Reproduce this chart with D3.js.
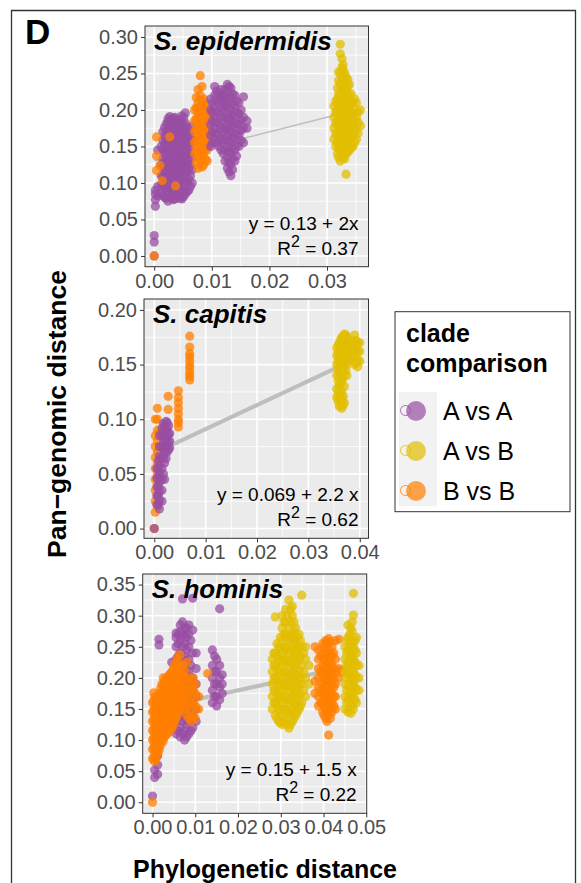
<!DOCTYPE html>
<html>
<head>
<meta charset="utf-8">
<script src="https://cdn.jsdelivr.net/npm/d3@7/dist/d3.min.js"></script>
<style>
  body { margin: 0; background: #fff; }
  svg text { font-family: "Liberation Sans", Arial, Helvetica, sans-serif; }
</style>
</head>
<body>
<svg id="fig" width="581" height="883"></svg>
<script>
// points are stored column-wise: [x, [y, y, ...]]

// ---- S. epidermidis ----
const epiAA1 = [
  [0.0000, [0.000, 0.019, 0.028]],
  [0.0002, [0.068, 0.077, 0.085, 0.090]],
  [0.0006, [0.082, 0.095, 0.145]],
  [0.0012, [0.086, 0.098, 0.110, 0.125, 0.150]],
  [0.0015, [0.083, 0.097, 0.109, 0.121, 0.133, 0.145, 0.158, 0.170]],
  [0.0018, [0.080, 0.092, 0.104, 0.116, 0.128, 0.140, 0.152, 0.164, 0.176]],
  [0.0021, [0.079, 0.094, 0.107, 0.119, 0.131, 0.143, 0.156, 0.169, 0.181]],
  [0.0024, [0.075, 0.088, 0.100, 0.112, 0.124, 0.136, 0.148, 0.160, 0.172, 0.184, 0.188]],
  [0.0027, [0.083, 0.095, 0.108, 0.120, 0.132, 0.145, 0.157, 0.169, 0.180, 0.191]],
  [0.0030, [0.080, 0.090, 0.102, 0.114, 0.126, 0.138, 0.150, 0.162, 0.174, 0.186]],
  [0.0033, [0.077, 0.087, 0.097, 0.109, 0.121, 0.133, 0.145, 0.157, 0.169, 0.181, 0.189]],
  [0.0036, [0.078, 0.094, 0.106, 0.118, 0.130, 0.142, 0.154, 0.166, 0.178, 0.190]],
  [0.0039, [0.084, 0.100, 0.112, 0.124, 0.136, 0.148, 0.160, 0.172, 0.184]],
  [0.0042, [0.082, 0.096, 0.108, 0.120, 0.132, 0.144, 0.156, 0.168, 0.180, 0.186]],
  [0.0045, [0.079, 0.090, 0.102, 0.114, 0.126, 0.138, 0.150, 0.162, 0.174, 0.183]],
  [0.0048, [0.078, 0.090, 0.104, 0.116, 0.128, 0.140, 0.152, 0.164, 0.176, 0.192]],
  [0.0051, [0.081, 0.096, 0.109, 0.121, 0.133, 0.145, 0.157, 0.169, 0.180, 0.190]],
  [0.0054, [0.085, 0.100, 0.112, 0.124, 0.136, 0.148, 0.160, 0.172, 0.182, 0.196]],
  [0.0057, [0.088, 0.102, 0.115, 0.127, 0.139, 0.151, 0.164, 0.176]],
  [0.0060, [0.090, 0.105, 0.118, 0.130, 0.142, 0.155, 0.170]],
  [0.0063, [0.095, 0.110, 0.125, 0.140, 0.150, 0.165]],
  [0.0066, [0.100, 0.118, 0.135, 0.160, 0.178]]
]
const epiBB = [
  [0.0000, [0.000]],
  [0.0004, [0.163, 0.137, 0.117]],
  [0.0010, [0.124]],
  [0.0014, [0.103]],
  [0.0027, [0.163]],
  [0.0037, [0.096]],
  [0.0070, [0.140, 0.155, 0.170, 0.185, 0.200]],
  [0.0073, [0.128, 0.143, 0.158, 0.173, 0.188, 0.203, 0.217]],
  [0.0076, [0.120, 0.135, 0.150, 0.165, 0.180, 0.195, 0.210, 0.228]],
  [0.0080, [0.130, 0.145, 0.160, 0.175, 0.190, 0.205, 0.220, 0.247]],
  [0.0083, [0.122, 0.137, 0.152, 0.167, 0.182, 0.197, 0.212, 0.232]],
  [0.0086, [0.125, 0.140, 0.155, 0.170, 0.185, 0.200, 0.215]],
  [0.0089, [0.132, 0.147, 0.162, 0.177, 0.192, 0.207]],
  [0.0092, [0.130, 0.145, 0.160, 0.175, 0.190, 0.205]],
  [0.0095, [0.152, 0.167, 0.182, 0.198]],
  [0.0098, [0.170, 0.190]]
]
const epiAA2 = [
  [0.0098, [0.150, 0.165, 0.180, 0.200, 0.215]],
  [0.0101, [0.155, 0.170, 0.185, 0.197, 0.210]],
  [0.0105, [0.160, 0.175, 0.190, 0.205, 0.220, 0.232]],
  [0.0108, [0.155, 0.168, 0.183, 0.198, 0.213, 0.226]],
  [0.0112, [0.150, 0.165, 0.180, 0.195, 0.210, 0.222]],
  [0.0116, [0.145, 0.160, 0.175, 0.190, 0.203, 0.216, 0.228]],
  [0.0120, [0.140, 0.155, 0.170, 0.185, 0.200, 0.212, 0.220]],
  [0.0123, [0.130, 0.145, 0.160, 0.175, 0.190, 0.205, 0.217, 0.228]],
  [0.0127, [0.120, 0.135, 0.150, 0.165, 0.180, 0.195, 0.210, 0.225, 0.235]],
  [0.0130, [0.115, 0.128, 0.143, 0.158, 0.173, 0.188, 0.203, 0.218, 0.232]],
  [0.0133, [0.110, 0.125, 0.140, 0.155, 0.170, 0.185, 0.200, 0.215, 0.230]],
  [0.0136, [0.118, 0.133, 0.148, 0.163, 0.178, 0.193, 0.208, 0.222]],
  [0.0140, [0.130, 0.145, 0.160, 0.175, 0.190, 0.205, 0.220]],
  [0.0143, [0.137, 0.152, 0.167, 0.182, 0.197, 0.212]],
  [0.0147, [0.150, 0.165, 0.180, 0.195, 0.210]],
  [0.0151, [0.158, 0.172, 0.186, 0.200]],
  [0.0155, [0.155, 0.175, 0.190, 0.218]],
  [0.0161, [0.175, 0.185]]
]
const epiAB = [
  [0.0312, [0.160, 0.175, 0.190, 0.205]],
  [0.0315, [0.150, 0.167, 0.182, 0.197, 0.212]],
  [0.0318, [0.140, 0.155, 0.170, 0.185, 0.200, 0.215, 0.230]],
  [0.0320, [0.135, 0.148, 0.162, 0.178, 0.192, 0.208, 0.222, 0.240, 0.252]],
  [0.0323, [0.130, 0.145, 0.160, 0.175, 0.190, 0.205, 0.220, 0.235, 0.250, 0.290, 0.277]],
  [0.0326, [0.138, 0.152, 0.168, 0.183, 0.198, 0.213, 0.228, 0.243, 0.258, 0.270]],
  [0.0328, [0.135, 0.150, 0.165, 0.180, 0.195, 0.210, 0.225, 0.240, 0.255, 0.262]],
  [0.0331, [0.133, 0.147, 0.162, 0.177, 0.192, 0.207, 0.222, 0.237, 0.250]],
  [0.0333, [0.140, 0.155, 0.170, 0.185, 0.200, 0.215, 0.230, 0.245, 0.112]],
  [0.0336, [0.142, 0.158, 0.172, 0.188, 0.202, 0.218, 0.232, 0.242]],
  [0.0339, [0.145, 0.160, 0.175, 0.190, 0.205, 0.220, 0.235]],
  [0.0342, [0.148, 0.163, 0.178, 0.193, 0.208, 0.222]],
  [0.0345, [0.150, 0.165, 0.180, 0.195, 0.210]],
  [0.0348, [0.155, 0.170, 0.185, 0.200, 0.215]],
  [0.0351, [0.160, 0.175, 0.190, 0.210]],
  [0.0354, [0.168, 0.183, 0.197]],
  [0.0358, [0.178, 0.200]]
]

// ---- S. capitis ----
const capBB = [
  [0.0000, [0.000]],
  [0.0002, [0.015, 0.025, 0.035, 0.045, 0.055, 0.065, 0.075, 0.085, 0.100]],
  [0.0006, [0.020, 0.030, 0.040, 0.050, 0.060, 0.070, 0.080, 0.090, 0.100, 0.110]],
  [0.0010, [0.045, 0.060, 0.075, 0.088]],
  [0.0027, [0.121, 0.109]],
  [0.0047, [0.126, 0.120, 0.115, 0.110, 0.105, 0.100, 0.097, 0.093]],
  [0.0069, [0.176, 0.166, 0.160, 0.157, 0.153, 0.149, 0.146, 0.142, 0.139, 0.136]]
]
const capAA = [
  [0.0000, [0.000]],
  [0.0005, [0.022, 0.030, 0.038, 0.046, 0.055]],
  [0.0008, [0.022, 0.030, 0.038, 0.046, 0.054, 0.062]],
  [0.0010, [0.018, 0.026, 0.034, 0.042, 0.050, 0.058, 0.066, 0.075, 0.085]],
  [0.0015, [0.025, 0.035, 0.045, 0.055, 0.065, 0.075, 0.085, 0.092]],
  [0.0018, [0.050, 0.065, 0.073, 0.081, 0.089, 0.096]],
  [0.0020, [0.045, 0.060, 0.070, 0.078, 0.086, 0.094]],
  [0.0023, [0.064, 0.074, 0.082, 0.090, 0.098]],
  [0.0025, [0.070, 0.077, 0.084, 0.091, 0.097]],
  [0.0028, [0.072, 0.079, 0.086, 0.094]],
  [0.0030, [0.074, 0.080, 0.087]]
]
const capAB = [
  [0.0355, [0.120, 0.128, 0.140, 0.150, 0.158, 0.165]],
  [0.0358, [0.116, 0.124, 0.135, 0.145, 0.153, 0.160, 0.168]],
  [0.0360, [0.112, 0.120, 0.130, 0.140, 0.148, 0.155, 0.162, 0.170]],
  [0.0363, [0.114, 0.122, 0.133, 0.143, 0.150, 0.158, 0.166, 0.173]],
  [0.0365, [0.110, 0.118, 0.125, 0.135, 0.145, 0.152, 0.160, 0.168, 0.175]],
  [0.0368, [0.113, 0.121, 0.138, 0.147, 0.155, 0.163, 0.170, 0.176]],
  [0.0370, [0.115, 0.130, 0.142, 0.150, 0.158, 0.165, 0.172, 0.178]],
  [0.0373, [0.145, 0.155, 0.163, 0.170, 0.177]],
  [0.0375, [0.140, 0.150, 0.160, 0.168, 0.175]],
  [0.0380, [0.155, 0.162, 0.170]],
  [0.0385, [0.158, 0.165, 0.172]],
  [0.0390, [0.150, 0.160, 0.168, 0.177]],
  [0.0393, [0.152, 0.163, 0.172]],
  [0.0396, [0.148, 0.155, 0.162, 0.170]],
  [0.0400, [0.153, 0.162, 0.170]]
]

// ---- S. hominis ----
const homAA = [
  [0.0000, [0.010]],
  [0.0005, [0.040, 0.052]],
  [0.0012, [0.045, 0.060, 0.075]],
  [0.0015, [0.253, 0.262]],
  [0.0030, [0.170, 0.140]],
  [0.0045, [0.130, 0.160, 0.190, 0.225]],
  [0.0055, [0.110, 0.130, 0.150, 0.170, 0.190, 0.210, 0.230, 0.250, 0.265, 0.272]],
  [0.0060, [0.115, 0.135, 0.155, 0.175, 0.195, 0.215, 0.235, 0.255, 0.270]],
  [0.0065, [0.105, 0.120, 0.140, 0.160, 0.180, 0.200, 0.220, 0.240, 0.260, 0.275, 0.285]],
  [0.0070, [0.327, 0.110, 0.130, 0.150, 0.170, 0.190, 0.210, 0.230, 0.250, 0.268, 0.290]],
  [0.0075, [0.100, 0.115, 0.135, 0.155, 0.175, 0.195, 0.215, 0.235, 0.255, 0.270, 0.280]],
  [0.0080, [0.105, 0.125, 0.145, 0.165, 0.185, 0.205, 0.225, 0.245, 0.265, 0.280]],
  [0.0085, [0.110, 0.130, 0.150, 0.170, 0.190, 0.210, 0.230, 0.250, 0.270, 0.285]],
  [0.0090, [0.115, 0.135, 0.155, 0.175, 0.195, 0.220, 0.260]],
  [0.0094, [0.328, 0.120, 0.140, 0.160, 0.180, 0.200, 0.240, 0.277]],
  [0.0102, [0.130, 0.150, 0.170, 0.190, 0.215, 0.240]],
  [0.0140, [0.160, 0.180, 0.200, 0.220, 0.245]],
  [0.0145, [0.170, 0.190, 0.210, 0.235]],
  [0.0150, [0.155, 0.170, 0.190, 0.210, 0.230]],
  [0.0157, [0.311, 0.165, 0.185, 0.200, 0.220]],
  [0.0163, [0.175, 0.190, 0.205]]
]
const homBB1 = [
  [0.0000, [0.000, 0.070, 0.085, 0.100, 0.115, 0.130, 0.145, 0.160]],
  [0.0003, [0.072, 0.088, 0.103, 0.118, 0.133, 0.148, 0.163, 0.176]],
  [0.0005, [0.065, 0.080, 0.095, 0.110, 0.125, 0.140, 0.155, 0.170]],
  [0.0008, [0.070, 0.085, 0.100, 0.115, 0.130, 0.145, 0.160]],
  [0.0010, [0.075, 0.090, 0.105, 0.120, 0.135, 0.150, 0.165]],
  [0.0013, [0.080, 0.095, 0.110, 0.125, 0.140, 0.155, 0.170]],
  [0.0016, [0.085, 0.100, 0.115, 0.130, 0.145, 0.160, 0.175]],
  [0.0019, [0.092, 0.108, 0.123, 0.138, 0.153, 0.168, 0.183]],
  [0.0022, [0.100, 0.115, 0.130, 0.145, 0.160, 0.175, 0.190]],
  [0.0025, [0.098, 0.113, 0.128, 0.143, 0.158, 0.173, 0.188, 0.200]],
  [0.0028, [0.105, 0.120, 0.135, 0.150, 0.165, 0.180, 0.195]],
  [0.0031, [0.108, 0.123, 0.138, 0.153, 0.168, 0.183, 0.198]],
  [0.0034, [0.110, 0.125, 0.140, 0.155, 0.170, 0.185, 0.200]],
  [0.0037, [0.112, 0.128, 0.143, 0.158, 0.173, 0.188, 0.203]],
  [0.0040, [0.115, 0.130, 0.145, 0.160, 0.175, 0.190, 0.205]],
  [0.0043, [0.118, 0.133, 0.148, 0.163, 0.178, 0.193, 0.208]],
  [0.0046, [0.120, 0.135, 0.150, 0.165, 0.180, 0.195, 0.210]],
  [0.0049, [0.125, 0.140, 0.155, 0.170, 0.185, 0.200, 0.215]],
  [0.0052, [0.130, 0.145, 0.160, 0.175, 0.190, 0.205, 0.220]],
  [0.0055, [0.135, 0.150, 0.165, 0.180, 0.195, 0.210, 0.225]],
  [0.0058, [0.140, 0.155, 0.170, 0.185, 0.200, 0.215, 0.232]],
  [0.0061, [0.145, 0.160, 0.175, 0.190, 0.205, 0.220]],
  [0.0064, [0.150, 0.165, 0.180, 0.195, 0.210, 0.237]],
  [0.0070, [0.160, 0.175, 0.190, 0.205, 0.220]],
  [0.0075, [0.150, 0.165, 0.180, 0.200, 0.212]],
  [0.0080, [0.140, 0.155, 0.170, 0.190, 0.225]],
  [0.0085, [0.135, 0.160, 0.180, 0.200]],
  [0.0090, [0.130, 0.150, 0.170, 0.190]],
  [0.0095, [0.140, 0.160, 0.180, 0.200]],
  [0.0100, [0.135, 0.155, 0.175, 0.190]],
  [0.0108, [0.150, 0.170]],
  [0.0129, [0.207]]
]
const homAB1 = [
  [0.0280, [0.150, 0.170, 0.190, 0.210, 0.230]],
  [0.0284, [0.160, 0.180, 0.200, 0.220, 0.240]],
  [0.0287, [0.140, 0.160, 0.180, 0.200, 0.220, 0.240, 0.298]],
  [0.0291, [0.135, 0.155, 0.175, 0.195, 0.215, 0.235, 0.255]],
  [0.0295, [0.130, 0.150, 0.170, 0.190, 0.210, 0.230, 0.250]],
  [0.0299, [0.128, 0.145, 0.165, 0.185, 0.205, 0.225, 0.245, 0.265]],
  [0.0303, [0.125, 0.140, 0.160, 0.180, 0.200, 0.220, 0.240, 0.260, 0.280, 0.300]],
  [0.0307, [0.130, 0.150, 0.170, 0.190, 0.210, 0.230, 0.250, 0.270, 0.290]],
  [0.0311, [0.130, 0.150, 0.170, 0.190, 0.210, 0.230, 0.250, 0.270, 0.290, 0.310]],
  [0.0315, [0.125, 0.145, 0.165, 0.185, 0.205, 0.225, 0.245, 0.265, 0.300]],
  [0.0319, [0.119, 0.140, 0.160, 0.180, 0.200, 0.220, 0.240, 0.260, 0.280, 0.325]],
  [0.0323, [0.125, 0.145, 0.165, 0.185, 0.205, 0.225, 0.245, 0.265, 0.290, 0.310]],
  [0.0327, [0.130, 0.150, 0.170, 0.190, 0.210, 0.230, 0.250, 0.270, 0.300, 0.315]],
  [0.0331, [0.135, 0.155, 0.175, 0.195, 0.215, 0.235, 0.255, 0.275, 0.290]],
  [0.0335, [0.140, 0.160, 0.180, 0.200, 0.220, 0.240, 0.260, 0.280]],
  [0.0339, [0.145, 0.165, 0.185, 0.205, 0.225, 0.245, 0.265]],
  [0.0343, [0.150, 0.170, 0.190, 0.210, 0.230, 0.250, 0.270]],
  [0.0346, [0.155, 0.175, 0.200, 0.235, 0.260]],
  [0.0349, [0.333, 0.160, 0.190, 0.220, 0.250]],
  [0.0354, [0.180, 0.210, 0.240]],
  [0.0358, [0.170, 0.200, 0.230, 0.250]],
  [0.0366, [0.190, 0.220]]
]
const homBB2 = [
  [0.0380, [0.175, 0.195, 0.250]],
  [0.0388, [0.155, 0.170, 0.185, 0.200, 0.215, 0.230, 0.245]],
  [0.0393, [0.160, 0.180, 0.210, 0.235]],
  [0.0398, [0.145, 0.160, 0.175, 0.190, 0.205, 0.220, 0.240, 0.255]],
  [0.0401, [0.140, 0.155, 0.170, 0.185, 0.200, 0.215, 0.230, 0.250]],
  [0.0405, [0.135, 0.150, 0.165, 0.180, 0.195, 0.210, 0.225, 0.240, 0.260]],
  [0.0408, [0.130, 0.145, 0.160, 0.175, 0.190, 0.205, 0.220, 0.235, 0.255]],
  [0.0412, [0.108, 0.140, 0.155, 0.170, 0.185, 0.200, 0.215, 0.230, 0.245, 0.263]],
  [0.0416, [0.135, 0.150, 0.165, 0.180, 0.195, 0.210, 0.225, 0.240, 0.258]],
  [0.0420, [0.145, 0.160, 0.175, 0.190, 0.205, 0.220, 0.235, 0.250]],
  [0.0424, [0.155, 0.170, 0.185, 0.200, 0.215, 0.240]],
  [0.0428, [0.150, 0.170, 0.190, 0.210, 0.230, 0.260]],
  [0.0436, [0.200, 0.215, 0.262]],
  [0.0443, [0.210]]
]
const homAB2 = [
  [0.0450, [0.150, 0.170, 0.190, 0.210, 0.230, 0.250]],
  [0.0454, [0.160, 0.180, 0.200, 0.220, 0.240, 0.260]],
  [0.0457, [0.145, 0.165, 0.185, 0.205, 0.225, 0.245, 0.265, 0.285]],
  [0.0461, [0.150, 0.170, 0.190, 0.210, 0.230, 0.250, 0.270]],
  [0.0464, [0.143, 0.160, 0.180, 0.200, 0.220, 0.240, 0.260, 0.280]],
  [0.0467, [0.155, 0.175, 0.195, 0.215, 0.235, 0.255, 0.275, 0.290]],
  [0.0470, [0.336, 0.301, 0.150, 0.170, 0.190, 0.210, 0.230, 0.250]],
  [0.0474, [0.165, 0.185, 0.205, 0.225, 0.245, 0.260]],
  [0.0477, [0.160, 0.180, 0.200, 0.220, 0.240, 0.265]],
  [0.0483, [0.180, 0.200, 0.220]]
]

const groups = ['AA', 'AB', 'BB']
const groupLabels = ['A vs A', 'A vs B', 'B vs B']
const groupColors = { AA: '#984EA3', AB: '#E2BD00', BB: '#FF7F00' }

// fits: intercept, slope, r2, label
const fitEpi = [0.13, 2, '0.37', 'y = 0.13 + 2x']
const fitCap = [0.069, 2.2, '0.62', 'y = 0.069 + 2.2 x']
const fitHom = [0.15, 1.5, '0.22', 'y = 0.15 + 1.5 x']

const panels = [
  { title: 'S. epidermidis', box: [145, 26, 368.5, 266.7], xDom: [-0.0016, 0.0372], yDom: [-0.0147, 0.315],
    xTicks: [0, 0.01, 0.02, 0.03], yTicks: [0, 0.05, 0.10, 0.15, 0.20, 0.25, 0.30], fit: fitEpi, xFit: [0, 0.0358], lw: 1.5,
    layers: [['AA', epiAA1], ['BB', epiBB], ['AA', epiAA2], ['AB', epiAB]] },
  { title: 'S. capitis', box: [144, 299, 368.5, 538.3], xDom: [-0.002, 0.0417], yDom: [-0.0089, 0.21],
    xTicks: [0, 0.01, 0.02, 0.03, 0.04], yTicks: [0, 0.05, 0.10, 0.15, 0.20], fit: fitCap, xFit: [0, 0.0396], lw: 4,
    layers: [['BB', capBB], ['AA', capAA], ['AB', capAB]] },
  { title: 'S. hominis', box: [142.7, 574, 366.7, 813.3], xDom: [-0.0023, 0.0501], yDom: [-0.0177, 0.367],
    xTicks: [0, 0.01, 0.02, 0.03, 0.04, 0.05], yTicks: [0, 0.05, 0.10, 0.15, 0.20, 0.25, 0.30, 0.35], fit: fitHom, xFit: [0, 0.0483], lw: 4,
    layers: [['AA', homAA], ['BB', homBB1], ['AB', homAB1], ['BB', homBB2], ['AB', homAB2]] }
]

const pts = cols => cols.flatMap(([x, ys]) => ys.map(y => [x, y]))
const mids = t => t.slice(1).map((v, i) => (v + t[i]) / 2)

const svg = d3.select('#fig')

// outer frame
svg.append('path')
  .attr('d', 'M11.5,883 V10.5 H575.5 V883')
  .attr('fill', 'none').attr('stroke', '#333').attr('stroke-width', 1.3)

svg.append('text').attr('x', 25).attr('y', 44)
  .attr('font-size', 35).attr('font-weight', 'bold').text('D')

panels.forEach(p => {
  let [l, t, r, b] = p.box
  let x = d3.scaleLinear().domain(p.xDom).range([l, r])
  let y = d3.scaleLinear().domain(p.yDom).range([b, t])
  let g = svg.append('g')

  g.append('rect').attr('x', l).attr('y', t).attr('width', r - l).attr('height', b - t).attr('fill', '#EBEBEB')

  // minor grid
  let xMinor = mids(p.xTicks).concat([p.xTicks[p.xTicks.length - 1] + 0.005]).filter(v => v < p.xDom[1])
  let yMinor = mids(p.yTicks).concat([p.yTicks[p.yTicks.length - 1] + 0.025]).filter(v => v < p.yDom[1])
  g.selectAll('.vmin').data(xMinor).enter().append('line')
    .attr('x1', d => x(d)).attr('x2', d => x(d)).attr('y1', t).attr('y2', b)
    .attr('stroke', '#fff').attr('stroke-width', 0.8)
  g.selectAll('.hmin').data(yMinor).enter().append('line')
    .attr('y1', d => y(d)).attr('y2', d => y(d)).attr('x1', l).attr('x2', r)
    .attr('stroke', '#fff').attr('stroke-width', 0.8)
  // major grid
  g.selectAll('.vmaj').data(p.xTicks).enter().append('line')
    .attr('x1', d => x(d)).attr('x2', d => x(d)).attr('y1', t).attr('y2', b)
    .attr('stroke', '#fff').attr('stroke-width', 1.6)
  g.selectAll('.hmaj').data(p.yTicks).enter().append('line')
    .attr('y1', d => y(d)).attr('y2', d => y(d)).attr('x1', l).attr('x2', r)
    .attr('stroke', '#fff').attr('stroke-width', 1.6)

  // regression line
  let [a, k] = p.fit
  g.append('line')
    .attr('x1', x(p.xFit[0])).attr('y1', y(a + k * p.xFit[0]))
    .attr('x2', x(p.xFit[1])).attr('y2', y(a + k * p.xFit[1]))
    .attr('stroke', '#BEBEBE').attr('stroke-width', p.lw)

  // points
  p.layers.forEach(([grp, cols]) => {
    g.append('g').selectAll('circle').data(pts(cols)).enter().append('circle')
      .attr('cx', d => x(d[0])).attr('cy', d => y(d[1])).attr('r', 4.6)
      .attr('fill', groupColors[grp]).attr('fill-opacity', 0.75)
  })

  g.append('rect').attr('x', l).attr('y', t).attr('width', r - l).attr('height', b - t)
    .attr('fill', 'none').attr('stroke', '#333').attr('stroke-width', 1)

  // axes
  let fmt = d3.format('.2f')
  let xa = g.append('g').attr('transform', `translate(0,${b})`)
    .call(d3.axisBottom(x).tickValues(p.xTicks).tickFormat(fmt).tickSize(4).tickPadding(3))
  let ya = g.append('g').attr('transform', `translate(${l},0)`)
    .call(d3.axisLeft(y).tickValues(p.yTicks).tickFormat(fmt).tickSize(4).tickPadding(3))
  ;[xa, ya].forEach(ax => {
    ax.select('.domain').remove()
    ax.selectAll('line').attr('stroke', '#333')
    ax.selectAll('text').attr('fill', '#4D4D4D').attr('font-size', 20)
      .attr('font-family', '"Liberation Sans", Arial, sans-serif')
  })

  g.append('text').attr('x', l + 9).attr('y', t + 24)
    .attr('font-size', 26).attr('font-weight', 'bold').attr('font-style', 'italic').text(p.title)

  // equation
  g.append('text').attr('x', r - 10).attr('y', b - 37).attr('text-anchor', 'end')
    .attr('font-size', 19).text(p.fit[3])
  let r2 = g.append('text').attr('x', r - 10).attr('y', b - 12).attr('text-anchor', 'end').attr('font-size', 19)
  r2.append('tspan').text('R')
  r2.append('tspan').attr('dy', -8).attr('font-size', 16).text('2')
  r2.append('tspan').attr('dy', 8).text(' = ' + p.fit[2])
})

// axis titles
svg.append('text').attr('transform', 'translate(66,414) rotate(-90)').attr('text-anchor', 'middle')
  .attr('font-size', 26.5).attr('font-weight', 'bold').text('Pan\u2212genomic distance')
svg.append('text').attr('x', 265).attr('y', 878).attr('text-anchor', 'middle')
  .attr('font-size', 25).attr('font-weight', 'bold').text('Phylogenetic distance')

// legend
let lg = svg.append('g')
lg.append('rect').attr('x', 395).attr('y', 311.7).attr('width', 175).attr('height', 200)
  .attr('fill', '#fff').attr('stroke', '#333').attr('stroke-width', 1)
lg.append('text').attr('x', 406).attr('y', 342).attr('font-size', 25).attr('font-weight', 'bold').text('clade')
lg.append('text').attr('x', 406).attr('y', 372).attr('font-size', 25).attr('font-weight', 'bold').text('comparison')
lg.append('rect').attr('x', 399).attr('y', 392).attr('width', 38).attr('height', 114).attr('fill', '#F2F2F2')
let ly = d3.scalePoint().domain(groups).range([411, 491])
groups.forEach((gk, i) => {
  lg.append('circle').attr('cx', 416).attr('cy', ly(gk)).attr('r', 10)
    .attr('fill', groupColors[gk]).attr('fill-opacity', 0.7)
  lg.append('circle').attr('cx', 405.5).attr('cy', ly(gk) - 0.5).attr('r', 5)
    .attr('fill', 'none').attr('stroke', groupColors[gk]).attr('stroke-opacity', 0.8).attr('stroke-width', 1)
  lg.append('text').attr('x', 443).attr('y', ly(gk) + 8.5).attr('font-size', 25).text(groupLabels[i])
})
</script>
</body>
</html>
